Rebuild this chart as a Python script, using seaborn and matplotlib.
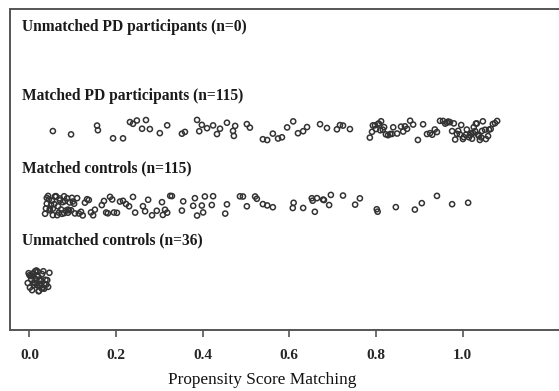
import numpy as np
import pandas as pd
import matplotlib
matplotlib.use("Agg")
import matplotlib.pyplot as plt
import matplotlib.transforms as mtransforms
import seaborn as sns

categories = [
    "Unmatched PD participants (n=0)",
    "Matched PD participants (n=115)",
    "Matched controls (n=115)",
    "Unmatched controls (n=36)",
]

unmatched_pd = []

matched_pd = [
    0.054, 0.096, 0.156, 0.158, 0.193, 0.216, 0.232, 0.239, 0.248, 0.260,
    0.269, 0.278, 0.301, 0.318, 0.352, 0.359, 0.387, 0.392, 0.398, 0.410,
    0.424, 0.433, 0.440, 0.456, 0.470, 0.472, 0.475, 0.502, 0.509, 0.539,
    0.549, 0.562, 0.574,
    0.583, 0.595, 0.609, 0.620, 0.632, 0.641, 0.671, 0.687, 0.710, 0.717,
    0.724, 0.740,
    0.786, 0.791, 0.793, 0.798, 0.800, 0.805, 0.807, 0.810, 0.812, 0.816,
    0.819, 0.823, 0.828, 0.833, 0.837,
    0.840, 0.849, 0.858, 0.863, 0.867, 0.872, 0.879, 0.886, 0.897, 0.909,
    0.918, 0.925, 0.930, 0.936, 0.941, 0.948, 0.955, 0.960, 0.964, 0.967,
    0.971, 0.976, 0.980, 0.983, 0.987, 0.990, 0.994, 0.997, 1.001, 1.003,
    1.008, 1.010, 1.015, 1.017, 1.020, 1.022, 1.024, 1.026, 1.029, 1.031,
    1.033, 1.036, 1.038, 1.040, 1.043, 1.045, 1.047, 1.052, 1.054, 1.059,
    1.061, 1.065, 1.070, 1.075, 1.080,
]

matched_controls = [
    0.036, 0.038, 0.040, 0.040, 0.043, 0.045, 0.047, 0.047, 0.050, 0.052,
    0.054, 0.054, 0.057, 0.059, 0.061, 0.061, 0.064, 0.066, 0.068, 0.070,
    0.070, 0.073, 0.075, 0.077, 0.080, 0.080, 0.082, 0.084, 0.087, 0.089,
    0.089, 0.091, 0.093, 0.096, 0.098, 0.100, 0.103, 0.105,
    0.110, 0.114, 0.119, 0.123, 0.128, 0.133, 0.137, 0.142, 0.147, 0.151,
    0.167, 0.172, 0.177, 0.181, 0.186, 0.191, 0.195, 0.202,
    0.209, 0.216, 0.223, 0.230,
    0.239, 0.244, 0.262, 0.267, 0.274, 0.283, 0.294, 0.306, 0.308, 0.313,
    0.318, 0.325, 0.329, 0.352, 0.355, 0.378, 0.382, 0.387, 0.398, 0.401,
    0.405, 0.421, 0.424, 0.452, 0.456, 0.486, 0.493, 0.502, 0.521, 0.525,
    0.539, 0.549,
    0.562, 0.608, 0.610, 0.632, 0.652, 0.654, 0.659, 0.664, 0.678, 0.680,
    0.692, 0.696, 0.724, 0.752, 0.763, 0.802, 0.804, 0.846, 0.890, 0.906,
    0.941, 0.976, 1.013,
]

unmatched_controls = [
    -0.004, -0.002, 0.000, 0.001, 0.003, 0.004, 0.006, 0.007, 0.008, 0.010,
    0.011, 0.012, 0.013, 0.015, 0.016, 0.017, 0.018, 0.019, 0.020, 0.021,
    0.022, 0.023, 0.024, 0.025, 0.027, 0.028, 0.029, 0.031, 0.032, 0.034,
    0.035, 0.037, 0.039, 0.041, 0.043, 0.046,
]

x_ticks = [0.0, 0.2, 0.4, 0.6, 0.8, 1.0]
x_label = "Propensity Score Matching"

groups = [unmatched_pd, matched_pd, matched_controls, unmatched_controls]
df = pd.DataFrame({
    "score": [v for g in groups for v in g],
    "group": [c for c, g in zip(categories, groups) for _ in g],
})

sns.set_theme(style="white")
plt.rcParams["font.family"] = ["Liberation Serif", "DejaVu Serif"]

W, H = 559, 391
fig = plt.figure(figsize=(W / 100, H / 100), dpi=100)
left_px, right_px, top_px, bot_px = 10, 566, 9, 330
ax = fig.add_axes([left_px / W, 1 - bot_px / H, (right_px - left_px) / W, (bot_px - top_px) / H])

np.random.seed(3)
sns.stripplot(data=df, x="score", y="group", order=categories, orient="h",
              jitter=0.14, size=3.7, ax=ax, color="#333333")
for coll in ax.collections:
    coll.set_facecolor("none")
    coll.set_edgecolor("#333333")
    coll.set_linewidth(1.1)

ax.set_xlim(-0.045, 1.239)
ax.set_ylim(3.65, -0.603)
ax.set_yticks([])
ax.set_ylabel("")
ax.set_xticks(x_ticks)
ax.set_xticklabels([f"{t:.1f}" for t in x_ticks], fontweight="bold", fontsize=11)
ax.tick_params(axis="x", direction="out", length=5, width=1.2, color="#555555",
               pad=9, bottom=True)
for s in ax.spines.values():
    s.set_color("#555555")
    s.set_linewidth(1.4)

ax.set_xlabel(x_label, fontsize=12.4, color="#111111")
ax.xaxis.set_label_coords(0.453, -0.13)

label_y = [-0.364, 0.550, 1.503, 2.457]
trans = mtransforms.blended_transform_factory(ax.transAxes, ax.transData)
for cat, yy in zip(categories, label_y):
    ax.text(0.0216, yy, cat, transform=trans, ha="left", va="center",
            fontsize=11.2, fontweight="bold", color="#1a1a1a")

fig.savefig("out.png", dpi=100)
